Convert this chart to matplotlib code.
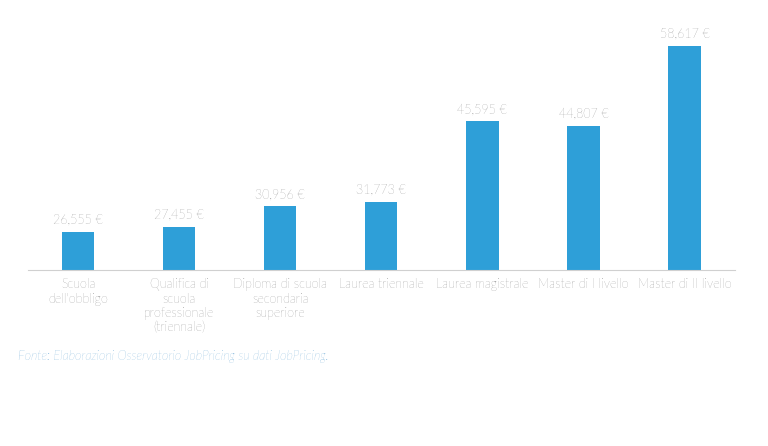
import matplotlib.pyplot as plt

categorie = ["Scuola\ndell'obbligo", "Qualifica di\nscuola\nprofessionale\n(triennale)",
             "Diploma di scuola\nsecondaria\nsuperiore", "Laurea triennale",
             "Laurea magistrale", "Master di I livello", "Master di II livello"]
ral = [26555, 27455, 30956, 31773, 45595, 44807, 58617]

plt.rcParams['font.family'] = ['Lato', 'DejaVu Sans']

fig = plt.figure(figsize=(7.68, 4.46), dpi=100)
fig.patch.set_facecolor("white")
ax = fig.add_axes([0.036, 0.395, 0.921, 0.5605])

x = range(len(ral))
ax.bar(x, ral, width=0.32, color="#2E9FD8", zorder=2)
ax.set_xlim(-0.5, 6.5)
ax.set_ylim(20000, 63100)

for i, v in zip(x, ral):
    ax.text(i, v + 900, f"{v:,} €", ha="center", va="bottom",
            fontsize=9, color="#555555", fontweight="light")

for s in ["top", "right", "left"]:
    ax.spines[s].set_visible(False)
ax.spines["bottom"].set_color("#d0d0d0")
ax.set_yticks([])
ax.set_xticks(list(x))
ax.set_xticklabels(categorie, fontsize=9, color="#555555", fontweight="light",
                   linespacing=1.15)
ax.tick_params(axis="x", length=0, pad=6)

fig.text(0.023, 0.193, "Fonte: Elaborazioni Osservatorio JobPricing su dati JobPricing.",
         fontsize=9, color="#3E8FC9", style="italic", fontweight="light")

fig.savefig("out.png", dpi=100)
